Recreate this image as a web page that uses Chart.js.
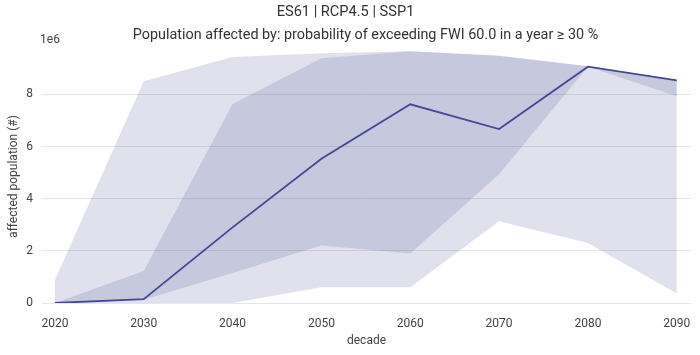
<!DOCTYPE html>
<html>
<head>
<meta charset="utf-8">
<script src="https://cdn.jsdelivr.net/npm/chart.js@4"></script>
<style>
html,body{margin:0;padding:0;background:#fff;}
#wrap{width:700px;height:355px;position:relative;}
</style>
</head>
<body>
<div id="wrap"><canvas id="c" width="700" height="355"></canvas></div>
<script>
const decades = [2020, 2030, 2040, 2050, 2060, 2070, 2080, 2090];
const median    = [0.0e6, 0.15e6, 2.9e6, 5.53e6, 7.62e6, 6.67e6, 9.06e6, 8.54e6];
const innerLow  = [0.0e6, 0.12e6, 1.15e6, 2.2e6, 1.9e6, 4.94e6, 9.06e6, 7.93e6];
const innerHigh = [0.0e6, 1.23e6, 7.63e6, 9.38e6, 9.65e6, 9.48e6, 9.08e6, 8.54e6];
const outerLow  = [0.0e6, 0.0e6, 0.0e6, 0.6e6, 0.6e6, 3.13e6, 2.3e6, 0.36e6];
const outerHigh = [0.88e6, 8.5e6, 9.43e6, 9.58e6, 9.65e6, 9.48e6, 9.08e6, 8.54e6];
const yTicks = [0, 2e6, 4e6, 6e6, 8e6];

const titleText = 'ES61 | RCP4.5 | SSP1';
const subtitleText = 'Population affected by: probability of exceeding FWI 60.0 in a year \u2265 30 %';

const pts = arr => arr.map((v, i) => ({x: decades[i], y: v}));
const band = 'rgba(70,75,150,0.17)';
const lineColor = 'rgb(66,70,150)';
const FONT = 'Roboto';

const textPlugin = {
  id: 'extraText',
  afterDraw(chart) {
    const ctx = chart.ctx;
    const a = chart.chartArea;
    ctx.save();
    ctx.fillStyle = '#333';
    ctx.font = '14.4px ' + FONT;
    ctx.textAlign = 'center';
    ctx.textBaseline = 'middle';
    ctx.fillText(subtitleText, (a.left + a.right) / 2 - 1, 35);
    ctx.fillStyle = '#444';
    ctx.font = '12px ' + FONT;
    ctx.fillText('1e6', 50, 40);
    ctx.restore();
  }
};

new Chart(document.getElementById('c'), {
  type: 'line',
  data: {
    datasets: [
      {data: pts(outerLow), borderWidth: 0, pointRadius: 0, fill: false, backgroundColor: band},
      {data: pts(outerHigh), borderWidth: 0, pointRadius: 0, fill: '-1', backgroundColor: band},
      {data: pts(innerLow), borderWidth: 0, pointRadius: 0, fill: false, backgroundColor: band},
      {data: pts(innerHigh), borderWidth: 0, pointRadius: 0, fill: '-1', backgroundColor: band},
      {data: pts(median), borderColor: lineColor, borderWidth: 1.8, pointRadius: 0, fill: false, tension: 0}
    ]
  },
  options: {
    responsive: false,
    animation: false,
    events: [],
    layout: {padding: {left: 0, right: 9, top: 0, bottom: 0}},
    plugins: {
      legend: {display: false},
      tooltip: {enabled: false},
      title: {
        display: true,
        text: titleText,
        color: '#333',
        font: {family: FONT, size: 14.6, weight: 'normal', lineHeight: 1.2},
        padding: {top: 3.3, bottom: 29.2}
      }
    },
    scales: {
      x: {
        type: 'linear',
        min: 2018.55,
        max: 2091.6,
        grid: {display: false},
        border: {display: false},
        afterBuildTicks: s => { s.ticks = decades.map(v => ({value: v})); },
        afterFit: s => { s.height = 52; },
        ticks: {
          color: '#444',
          font: {family: FONT, size: 12},
          padding: 6,
          maxRotation: 0,
          callback: v => String(v)
        },
        title: {
          display: true,
          text: 'decade',
          color: '#444',
          font: {family: FONT, size: 12},
          padding: {top: 2, bottom: 7}
        }
      },
      y: {
        min: 0,
        max: 9.7e6,
        grid: {color: '#e6e6e6', drawTicks: false},
        border: {display: false},
        afterBuildTicks: s => { s.ticks = yTicks.map(v => ({value: v})); },
        afterFit: s => { s.width = 42; },
        ticks: {
          color: '#444',
          font: {family: FONT, size: 12},
          padding: 9,
          callback: v => String(v / 1e6)
        },
        title: {
          display: true,
          text: 'affected population (#)',
          color: '#444',
          font: {family: FONT, size: 12},
          padding: {top: 7, bottom: 0}
        }
      }
    }
  },
  plugins: [textPlugin]
});
</script>
</body>
</html>
